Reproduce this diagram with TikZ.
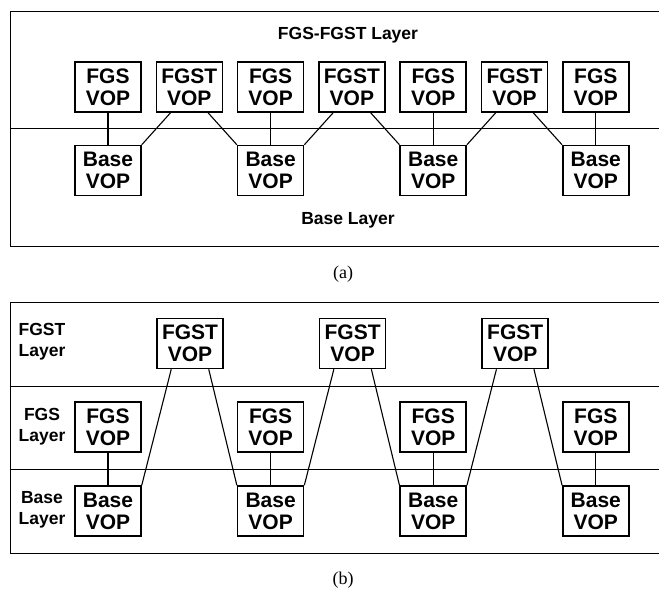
\documentclass[tikz,border=0pt]{standalone}
\usepackage{fontspec}
\setmainfont{Liberation Sans}
\newfontfamily\capfont{Liberation Serif}
\usetikzlibrary{positioning}

\begin{document}
\begin{tikzpicture}[x=1pt,y=-1pt,node distance=81.3pt,
    vop/.style={draw,line width=1.5pt,minimum width=66pt,minimum height=50pt,inner sep=0pt,align=center,font=\bfseries\fontsize{21}{22}\selectfont},
    layer/.style={align=center,font=\bfseries\fontsize{17.5}{21}\selectfont},
    link/.style={line width=1.1pt},
    frame/.style={line width=0.9pt}]
    \useasboundingbox (0,0) rectangle (659,590);

    % (a) FGS and FGST in one layer
    \draw[frame] (659,11) -- (10,11) -- (10,246) -- (659,246);
    \draw[frame] (10,128) -- (659,128);
    \node[layer] (top) at (348,35) {FGS-FGST Layer};
    \node[layer] (bot) at (348,220) {Base Layer};

    \node[vop] (f1) at (108,87) {FGS\\VOP};
    \node[vop] (t1) [right of=f1] {FGST\\VOP};
    \node[vop] (f2) [right of=t1] {FGS\\VOP};
    \node[vop] (t2) [right of=f2] {FGST\\VOP};
    \node[vop] (f3) [right of=t2] {FGS\\VOP};
    \node[vop] (t3) [right of=f3] {FGST\\VOP};
    \node[vop] (f4) [right of=t3] {FGS\\VOP};

    \node[vop] (b1) [below of=f1,node distance=83.5pt] {Base\\VOP};
    \node[vop] (b2) [below of=f2,node distance=83.5pt] {Base\\VOP};
    \node[vop] (b3) [below of=f3,node distance=83.5pt] {Base\\VOP};
    \node[vop] (b4) [below of=f4,node distance=83.5pt] {Base\\VOP};

    \draw[link] (f1) -- (b1);
    \draw[link] (f2) -- (b2);
    \draw[link] (f3) -- (b3);
    \draw[link] (f4) -- (b4);
    \draw[link] ([xshift=15pt]t1.south west) -- (b1.north east);
    \draw[link] ([xshift=-15pt]t1.south east) -- (b2.north west);
    \draw[link] ([xshift=15pt]t2.south west) -- (b2.north east);
    \draw[link] ([xshift=-15pt]t2.south east) -- (b3.north west);
    \draw[link] ([xshift=15pt]t3.south west) -- (b3.north east);
    \draw[link] ([xshift=-15pt]t3.south east) -- (b4.north west);

    \node[font=\capfont\fontsize{18}{20}\selectfont] (capa) at (343,274) {(a)};

    % (b) FGST in a layer of its own
    \draw[frame] (659,302) -- (10,302) -- (10,553) -- (659,553);
    \draw[frame] (10,386) -- (659,386);
    \draw[frame] (10,469) -- (659,469);
    \node[layer] (lt) at (42,342) {FGST\\Layer};
    \node[layer] (lf) at (42,427) {FGS\\Layer};
    \node[layer] (lb) at (42,510) {Base\\Layer};

    \node[vop] (bb1) at (108,511) {Base\\VOP};
    \node[vop] (bb2) [right of=bb1,node distance=162.6pt] {Base\\VOP};
    \node[vop] (bb3) [right of=bb2,node distance=162.6pt] {Base\\VOP};
    \node[vop] (bb4) [right of=bb3,node distance=162.6pt] {Base\\VOP};

    \node[vop] (ff1) [above of=bb1,node distance=84pt] {FGS\\VOP};
    \node[vop] (ff2) [above of=bb2,node distance=84pt] {FGS\\VOP};
    \node[vop] (ff3) [above of=bb3,node distance=84pt] {FGS\\VOP};
    \node[vop] (ff4) [above of=bb4,node distance=84pt] {FGS\\VOP};

    \node[vop] (tt1) at (190,343.5) {FGST\\VOP};
    \node[vop] (tt2) [right of=tt1,node distance=162.6pt] {FGST\\VOP};
    \node[vop] (tt3) [right of=tt2,node distance=162.6pt] {FGST\\VOP};

    \draw[link] (ff1) -- (bb1);
    \draw[link] (ff2) -- (bb2);
    \draw[link] (ff3) -- (bb3);
    \draw[link] (ff4) -- (bb4);
    \draw[link] ([xshift=15pt]tt1.south west) -- (bb1.north east);
    \draw[link] ([xshift=-15pt]tt1.south east) -- (bb2.north west);
    \draw[link] ([xshift=15pt]tt2.south west) -- (bb2.north east);
    \draw[link] ([xshift=-15pt]tt2.south east) -- (bb3.north west);
    \draw[link] ([xshift=15pt]tt3.south west) -- (bb3.north east);
    \draw[link] ([xshift=-15pt]tt3.south east) -- (bb4.north west);

    \node[font=\capfont\fontsize{18}{20}\selectfont] (capb) at (343,580) {(b)};
\end{tikzpicture}
\end{document}
